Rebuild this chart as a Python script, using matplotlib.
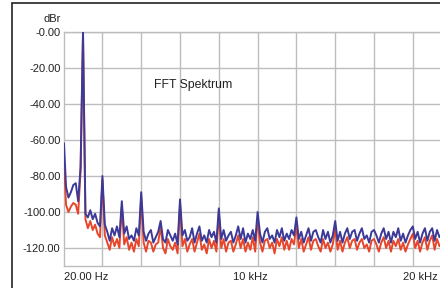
import numpy as np
import matplotlib
matplotlib.use('Agg')
import matplotlib.pyplot as plt
from matplotlib.patches import Rectangle

plt.rcParams['font.family'] = ['Liberation Sans', 'DejaVu Sans']

# FFT bins, 1/8 kHz apart (first bin is the 20 Hz start)
bin_khz = 0.125

# channel 1 (blue), dBr
blue_db = [
    -62, -86, -92, -89, -85, -84, -94, -75, 0, -101,
    -103, -99, -104, -101, -106, -108, -80, -107, -111, -116,
    -109, -113, -108, -114, -94, -112, -108, -115, -113, -116,
    -109, -113, -89, -111, -116, -112, -110, -117, -114, -111,
    -105, -115, -117, -110, -113, -116, -112, -118, -93, -113,
    -110, -116, -114, -109, -117, -112, -108, -116, -113, -117,
    -110, -114, -111, -117, -98, -115, -110, -116, -113, -111,
    -117, -113, -108, -115, -109, -117, -112, -115, -110, -116,
    -100, -112, -117, -111, -109, -115, -113, -117, -110, -114,
    -109, -116, -112, -115, -110, -113, -103, -115, -111, -117,
    -113, -109, -116, -111, -110, -114, -117, -110, -115, -111,
    -117, -113, -105, -116, -111, -117, -112, -109, -115, -111,
    -110, -116, -112, -109, -115, -113, -117, -111, -110, -113,
    -117, -112, -109, -115, -111, -117, -111, -114, -109, -116,
    -112, -117, -113, -110, -108, -115, -111, -117, -112, -109,
    -116, -111, -109, -116, -110, -114, -112,
]

# channel 2 (red), dBr
red_db = [
    -72, -96, -100, -97, -95, -96, -101, -77, -1, -104,
    -109, -105, -110, -107, -112, -114, -82, -113, -117, -121,
    -114, -119, -115, -120, -97, -118, -114, -121, -117, -122,
    -115, -119, -92, -117, -122, -116, -117, -122, -118, -117,
    -108, -120, -123, -115, -119, -121, -117, -123, -96, -119,
    -115, -122, -118, -115, -122, -117, -112, -121, -118, -123,
    -115, -120, -116, -122, -101, -120, -115, -122, -117, -116,
    -122, -118, -113, -120, -115, -122, -117, -121, -114, -122,
    -104, -117, -122, -116, -115, -120, -117, -123, -115, -119,
    -114, -121, -116, -121, -115, -118, -107, -120, -115, -122,
    -118, -114, -121, -116, -115, -119, -122, -115, -120, -117,
    -122, -118, -109, -121, -116, -122, -117, -114, -120, -116,
    -115, -121, -117, -115, -120, -118, -122, -116, -115, -118,
    -122, -117, -114, -120, -116, -122, -116, -119, -115, -121,
    -117, -122, -118, -115, -112, -120, -116, -122, -117, -114,
    -121, -116, -113, -121, -115, -119, -117,
]

y_ticks = [0, -20, -40, -60, -80, -100, -120]
y_labels = ['-0.00', '-20.00', '-40.00', '-60.00', '-80.00', '-100.00', '-120.00']
x_labels = ['20.00 Hz', '10 kHz', '20 kHz']
x_label_pos = [0.02, 9.64, 17.47]

freq = np.arange(len(blue_db)) * bin_khz
freq[0] = 0.02

W, H = 440, 288
fig = plt.figure(figsize=(W / 100, H / 100), dpi=100)
fig.patch.set_facecolor('white')

# plot area: left edge at x=64 px, runs past the right edge of the picture
ax = fig.add_axes([64 / W, 22 / H, 426.4 / W, 234 / H])
ax.set_xlim(0.02, 22.0)
ax.set_ylim(-130, 0)

ax.plot(freq, red_db, color='#e8452a', lw=1.4, zorder=3)
ax.plot(freq, blue_db, color='#3b3a98', lw=1.4, zorder=4)

ax.set_yticks(y_ticks, y_labels)
ax.set_xticks(x_label_pos, x_labels)
ax.set_xticks(np.arange(2, 22, 2), minor=True)
ax.tick_params(axis='both', which='both', length=0, labelsize=8, colors='#222222')
ax.tick_params(axis='y', pad=2.5)
ax.tick_params(axis='x', pad=4)
ax.get_xticklabels()[0].set_ha('left')
ax.get_xticklabels()[2].set_ha('left')

ax.grid(axis='y', which='major', color='#bdbdbd', lw=1.0)
ax.grid(axis='x', which='minor', color='#bdbdbd', lw=1.0)
for s in ax.spines.values():
    s.set_color('#bdbdbd')
    s.set_linewidth(1.0)

ax.text(4.64, -29.4, 'FFT Spektrum', fontsize=8.8, color='#222222',
        ha='left', va='center')
fig.text(61 / W, 1 - 19 / H, 'dBr', fontsize=8, color='#222222',
         ha='right', va='center')

# outer frame (only left and top edges are inside the picture)
fig.add_artist(Rectangle((12 / W, -0.2), 1.2, 1.2 - 3 / H,
                         transform=fig.transFigure, fill=False,
                         edgecolor='#222222', lw=1.2))

fig.savefig('out.png', dpi=100)
